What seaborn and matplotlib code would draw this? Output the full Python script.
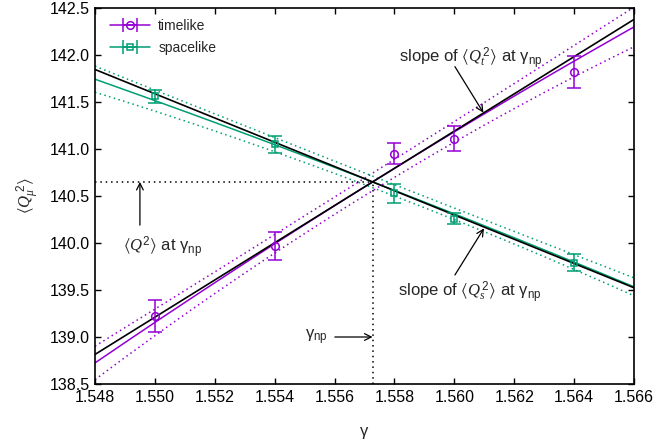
import numpy as np
import pandas as pd
import matplotlib
matplotlib.use("Agg")
import matplotlib.pyplot as plt
import seaborn as sns

# ---- data ----
gamma = [1.550, 1.554, 1.558, 1.560, 1.564]
q2_time = [139.22, 139.97, 140.95, 141.11, 141.82]
err_time = [0.17, 0.15, 0.11, 0.13, 0.17]
q2_space = [141.56, 141.05, 140.53, 140.26, 139.79]
err_space = [0.07, 0.09, 0.10, 0.055, 0.09]

gamma_np = 1.55727
q2_np = 140.65
slope_time = 198.0
slope_space = -129.0

# fit curves: value, slope, curvature about gamma_np
fit_time = [140.65, 198.0, -1050.0]
fit_space = [140.65, -123.0, -555.0]
# error-band half width: minimum, offset of minimum, growth
band_time = [0.092, -0.001, 1255.0]
band_space = [0.060, 0.0015, 675.0]

xticks = [1.548, 1.550, 1.552, 1.554, 1.556, 1.558, 1.560, 1.562, 1.564, 1.566]
yticks = [138.5, 139.0, 139.5, 140.0, 140.5, 141.0, 141.5, 142.0, 142.5]

C_T = "#9400D3"
C_S = "#009E73"

sns.set_theme(style="ticks")
plt.rcParams["font.family"] = ["Liberation Sans", "DejaVu Sans"]
plt.rcParams["mathtext.fontset"] = "custom"
plt.rcParams["mathtext.rm"] = "Liberation Sans"
plt.rcParams["mathtext.it"] = "Liberation Serif:italic"
plt.rcParams["mathtext.bf"] = "Liberation Sans:bold"
plt.rcParams["mathtext.fallback"] = "stix"

fig = plt.figure(figsize=(6.57, 4.47), dpi=100)
ax = fig.add_axes([95 / 657, 1 - 384 / 447, (634 - 95) / 657, (384 - 8) / 447])

xmin, xmax = xticks[0], xticks[-1]
ymin, ymax = yticks[0], yticks[-1]
xs = np.linspace(xmin, xmax, 200)
dx = xs - gamma_np

dot = (0, (1, 2.2))
for fit, band, col in [(fit_time, band_time, C_T), (fit_space, band_space, C_S)]:
    f = fit[0] + fit[1] * dx + fit[2] * dx ** 2
    w = band[0] + band[2] * (dx - band[1]) ** 2
    df = pd.DataFrame({"x": xs, "f": f, "lo": f - w, "hi": f + w})
    sns.lineplot(data=df, x="x", y="f", color=col, lw=1.1, ax=ax)
    ax.plot(df["x"], df["lo"], color=col, lw=1.1, ls=dot)
    ax.plot(df["x"], df["hi"], color=col, lw=1.1, ls=dot)

# tangent lines at gamma_np
for sl in (slope_time, slope_space):
    xl = np.array([xmin, xmax])
    ax.plot(xl, q2_np + sl * (xl - gamma_np), color="black", lw=1.2)

# data with error bars
ax.errorbar(gamma, q2_time, yerr=err_time, fmt="o", mfc="none", mec=C_T,
            ecolor=C_T, ms=5.5, mew=1.1, elinewidth=1.1, capsize=5, capthick=1.1, zorder=5)
ax.errorbar(gamma, q2_space, yerr=err_space, fmt="s", mfc="none", mec=C_S,
            ecolor=C_S, ms=5, mew=1.1, elinewidth=1.1, capsize=5, capthick=1.1, zorder=5)

# dotted guide lines
ax.plot([xmin, gamma_np], [q2_np, q2_np], color="black", lw=1.1, ls=(0, (1, 2.5)))
ax.plot([gamma_np, gamma_np], [ymin, q2_np], color="black", lw=1.1, ls=(0, (1, 2.5)))

# legend proxies (gnuplot-like horizontal error bar samples)
h1 = ax.errorbar([np.nan], [np.nan], xerr=[1], fmt="o-", mfc="none", color=C_T,
                 ms=5.5, mew=1.1, lw=1.1, capsize=5)
h2 = ax.errorbar([np.nan], [np.nan], xerr=[1], fmt="s-", mfc="none", color=C_S,
                 ms=5, mew=1.1, lw=1.1, capsize=5)
leg = ax.legend([h1, h2], ["timelike", "spacelike"], loc="upper left",
                bbox_to_anchor=(0.017, 0.985), borderaxespad=0, frameon=False,
                fontsize=10, handlelength=2.9, handletextpad=0.6, labelspacing=0.55)

fs = 12
arr = dict(arrowstyle="->", color="black", lw=0.9, shrinkA=0, shrinkB=0)
ax.annotate("", xy=(1.5495, q2_np), xytext=(1.5495, 140.19), arrowprops=arr)
ax.text(1.55027, 139.96, r"$\langle Q^{2}\rangle$ at γ$_{\mathrm{np}}$", fontsize=fs,
        ha="center", va="center")
ax.annotate("", xy=(gamma_np, 139.0), xytext=(1.55601, 139.0), arrowprops=arr)
ax.text(1.55538, 139.0, r"γ$_{\mathrm{np}}$", fontsize=fs, ha="center", va="center")
ax.annotate("", xy=(1.56097, 141.386), xytext=(1.56002, 141.876), arrowprops=arr)
ax.text(1.56055, 141.97, r"slope of $\langle Q_t^{\,2}\rangle$ at γ$_{\mathrm{np}}$",
        fontsize=fs, ha="center", va="center")
ax.annotate("", xy=(1.56099, 140.156), xytext=(1.56002, 139.66), arrowprops=arr)
ax.text(1.56052, 139.48, r"slope of $\langle Q_s^{\,2}\rangle$ at γ$_{\mathrm{np}}$",
        fontsize=fs, ha="center", va="center")

ax.set_xlim(xmin, xmax)
ax.set_ylim(ymin, ymax)
ax.set_xticks(xticks)
ax.set_xticklabels([f"{v:.3f}" for v in xticks])
ax.set_yticks(yticks)
ax.set_yticklabels([f"{v:.1f}" for v in yticks])
ax.tick_params(direction="in", top=True, right=True, length=4.5, width=1.0,
               labelsize=11.5, colors="black", pad=4)
for sp in ax.spines.values():
    sp.set_visible(True)
    sp.set_linewidth(1.2)
    sp.set_color("black")
ax.set_xlabel("γ", fontsize=12, labelpad=14)
ax.set_ylabel(r"$\langle Q_\mu^{\ 2}\rangle$", fontsize=12, labelpad=6)

fig.savefig("out.png", dpi=100)
